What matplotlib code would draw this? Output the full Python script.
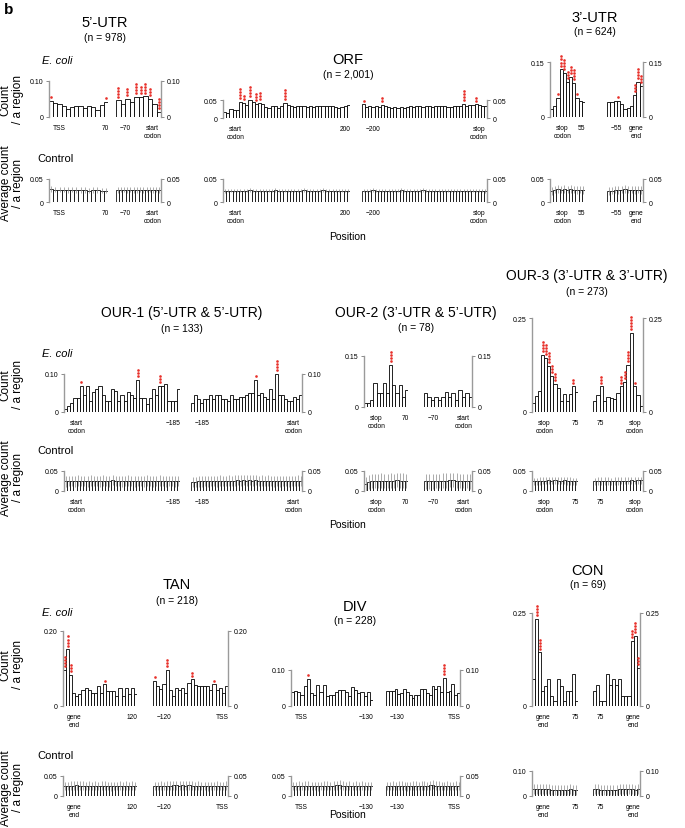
import matplotlib
matplotlib.use('Agg')
import matplotlib.pyplot as plt
from matplotlib.transforms import offset_copy

plt.rcParams['font.family'] = ['Liberation Sans', 'DejaVu Sans']

# ---------------- E. coli data (count / a region) ----------------
e5L = [0.045, 0.040, 0.036, 0.030, 0.022, 0.028, 0.030, 0.030, 0.025, 0.030, 0.028, 0.020, 0.032, 0.042]
e5R = [0.046, 0.036, 0.050, 0.041, 0.055, 0.055, 0.057, 0.050, 0.035, 0.015]
eORFL = [0.018, 0.015, 0.024, 0.022, 0.022, 0.045, 0.042, 0.037, 0.050, 0.045,
         0.040, 0.042, 0.040, 0.030, 0.028, 0.032, 0.032, 0.028, 0.034, 0.042,
         0.036, 0.032, 0.030, 0.034, 0.034, 0.032, 0.030, 0.033, 0.030, 0.034,
         0.032, 0.034, 0.034, 0.032, 0.034, 0.030, 0.028, 0.030, 0.034, 0.035]
eORFR = [0.038, 0.030, 0.032, 0.030, 0.032, 0.030, 0.037, 0.032, 0.030, 0.028,
         0.030, 0.028, 0.030, 0.028, 0.030, 0.032, 0.030, 0.034, 0.032, 0.030,
         0.032, 0.034, 0.030, 0.033, 0.033, 0.033, 0.033, 0.030, 0.030, 0.032,
         0.034, 0.034, 0.040, 0.032, 0.036, 0.036, 0.038, 0.036, 0.032, 0.034]
e3L = [0.023, 0.030, 0.053, 0.130, 0.120, 0.095, 0.109, 0.093, 0.052, 0.045, 0.041]
e3R = [0.042, 0.042, 0.044, 0.043, 0.036, 0.022, 0.025, 0.030, 0.060, 0.095, 0.085]
eO1L = [0.007, 0.015, 0.023, 0.038, 0.038, 0.068, 0.045, 0.068, 0.030, 0.052,
        0.060, 0.068, 0.045, 0.030, 0.030, 0.060, 0.056, 0.030, 0.045, 0.030,
        0.052, 0.045, 0.038, 0.085, 0.038, 0.038, 0.022, 0.038, 0.060, 0.045,
        0.068, 0.068, 0.075, 0.030, 0.030, 0.030, 0.060]
eO1R = [0.025, 0.045, 0.035, 0.025, 0.035, 0.035, 0.045, 0.035, 0.045, 0.045,
        0.035, 0.035, 0.030, 0.045, 0.035, 0.035, 0.040, 0.040, 0.045, 0.050,
        0.050, 0.085, 0.045, 0.050, 0.040, 0.035, 0.060, 0.035, 0.100, 0.045,
        0.045, 0.035, 0.030, 0.030, 0.040, 0.035, 0.045]
eO2L = [0.011, 0.011, 0.020, 0.072, 0.040, 0.042, 0.072, 0.040, 0.125, 0.065, 0.040, 0.065, 0.030, 0.050]
eO2R = [0.042, 0.028, 0.020, 0.028, 0.020, 0.028, 0.045, 0.028, 0.042, 0.020, 0.050, 0.028, 0.042, 0.028]
eO3L = [0.023, 0.043, 0.056, 0.152, 0.143, 0.123, 0.097, 0.074, 0.065, 0.030, 0.047, 0.030, 0.048, 0.068, 0.052]
eO3R = [0.030, 0.045, 0.068, 0.030, 0.040, 0.038, 0.035, 0.050, 0.068, 0.080, 0.125, 0.210, 0.068, 0.045, 0.015]
eTL = [0.096, 0.151, 0.084, 0.036, 0.027, 0.031, 0.044, 0.049, 0.044, 0.036, 0.036, 0.053,
       0.036, 0.058, 0.040, 0.040, 0.040, 0.027, 0.049, 0.027, 0.049, 0.031, 0.049, 0.031]
eTR = [0.067, 0.053, 0.046, 0.058, 0.096, 0.044, 0.027, 0.049, 0.044, 0.049, 0.036, 0.062,
       0.071, 0.055, 0.053, 0.053, 0.053, 0.053, 0.044, 0.058, 0.044, 0.049, 0.036, 0.053]
eDL = [0.040, 0.042, 0.038, 0.030, 0.055, 0.075, 0.035, 0.030, 0.058, 0.040, 0.058, 0.028, 0.030,
       0.030, 0.040, 0.045, 0.045, 0.040, 0.028, 0.052, 0.045, 0.035, 0.040, 0.028, 0.040, 0.016]
eDR = [0.042, 0.042, 0.042, 0.046, 0.032, 0.036, 0.046, 0.040, 0.030, 0.022, 0.030, 0.030, 0.046,
       0.046, 0.036, 0.030, 0.055, 0.046, 0.055, 0.040, 0.078, 0.038, 0.042, 0.060, 0.030, 0.035]
eCL = [0.072, 0.235, 0.144, 0.041, 0.054, 0.072, 0.027, 0.014, 0.072, 0.054, 0.014, 0.041, 0.041, 0.086, 0.014]
eCR = [0.041, 0.056, 0.014, 0.014, 0.086, 0.056, 0.072, 0.056, 0.072, 0.027, 0.027, 0.027, 0.176, 0.188, 0.102]

# significance stars: (bar index, number of stars)
s5L = [(0, 1), (13, 1)]
s5R = [(0, 4), (2, 3), (4, 4), (5, 3), (6, 4), (7, 3), (9, 4)]
sORFL = [(5, 4), (6, 2), (8, 4), (10, 3), (11, 3), (19, 4)]
sORFR = [(0, 1), (6, 2), (32, 4), (36, 2)]
s3L = [(2, 1), (3, 4), (4, 4), (5, 3), (6, 3), (7, 4), (8, 1)]
s3R = [(3, 1), (8, 3), (9, 4), (10, 3)]
sO1L = [(5, 1), (23, 3), (30, 3)]
sO1R = [(21, 1), (28, 4)]
sO2L = [(8, 4)]
sO2R = []
sO3L = [(3, 4), (4, 4), (5, 4), (6, 3), (7, 3), (13, 2)]
sO3R = [(2, 3), (8, 3), (9, 3), (10, 4), (11, 5), (12, 1)]
sTL = [(0, 4), (1, 4), (2, 3), (13, 1)]
sTR = [(0, 1), (4, 3), (12, 2), (19, 1)]
sDL = [(5, 1)]
sDR = [(20, 4)]
sCL = [(1, 4), (2, 4)]
sCR = [(12, 3), (13, 4), (14, 3)]

# ---------------- Control data (average count / a region) ----------------
c5L = [0.028, 0.027, 0.027, 0.027, 0.026, 0.027, 0.026, 0.026, 0.026, 0.025, 0.026, 0.026, 0.025, 0.025]
c5R = [0.026, 0.027, 0.027, 0.026, 0.027, 0.026, 0.026, 0.027, 0.026, 0.027, 0.027, 0.026, 0.027, 0.026]
cORFL = [0.024, 0.025, 0.025, 0.025, 0.025, 0.025, 0.025, 0.025, 0.026, 0.025,
         0.025, 0.025, 0.025, 0.025, 0.025, 0.025, 0.026, 0.025, 0.025, 0.025,
         0.025, 0.025, 0.025, 0.025, 0.025, 0.026, 0.025, 0.025, 0.025, 0.025,
         0.025, 0.026, 0.025, 0.025, 0.025, 0.025, 0.025, 0.025, 0.025, 0.025]
cORFR = [0.025, 0.025, 0.025, 0.026, 0.025, 0.025, 0.025, 0.025, 0.025, 0.025,
         0.025, 0.025, 0.026, 0.025, 0.025, 0.025, 0.025, 0.025, 0.025, 0.026,
         0.025, 0.025, 0.025, 0.025, 0.025, 0.025, 0.025, 0.025, 0.025, 0.025,
         0.025, 0.025, 0.025, 0.025, 0.025, 0.025, 0.025, 0.025, 0.025, 0.024]
c3L = [0.024, 0.027, 0.028, 0.027, 0.028, 0.027, 0.028, 0.027, 0.026, 0.027, 0.026]
c3R = [0.024, 0.025, 0.027, 0.026, 0.027, 0.028, 0.027, 0.027, 0.026, 0.027, 0.026]
cO1L = [0.024, 0.025, 0.025, 0.024, 0.026, 0.025, 0.025, 0.024, 0.026, 0.025,
        0.025, 0.024, 0.026, 0.025, 0.024, 0.027, 0.025, 0.025, 0.024, 0.025,
        0.026, 0.025, 0.024, 0.025, 0.025, 0.024, 0.026, 0.025, 0.024, 0.025,
        0.026, 0.025, 0.024, 0.025, 0.025, 0.024, 0.025]
cO1R = [0.022, 0.023, 0.024, 0.024, 0.025, 0.024, 0.025, 0.025, 0.024, 0.026,
        0.025, 0.025, 0.026, 0.025, 0.026, 0.027, 0.026, 0.027, 0.026, 0.028,
        0.026, 0.027, 0.025, 0.026, 0.025, 0.026, 0.025, 0.024, 0.025, 0.024,
        0.025, 0.025, 0.024, 0.025, 0.025, 0.026, 0.025]
cO2L = [0.018, 0.022, 0.025, 0.025, 0.025, 0.026, 0.025, 0.025, 0.026, 0.025, 0.027, 0.026, 0.026, 0.025]
cO2R = [0.024, 0.024, 0.024, 0.025, 0.025, 0.026, 0.026, 0.027, 0.027, 0.026, 0.025, 0.025, 0.025, 0.024]
cO3L = [0.024, 0.024, 0.025, 0.026, 0.026, 0.027, 0.026, 0.027, 0.026, 0.026, 0.027, 0.025, 0.025, 0.024, 0.024]
cO3R = [0.024, 0.025, 0.025, 0.025, 0.025, 0.024, 0.025, 0.025, 0.026, 0.026, 0.026, 0.027, 0.026, 0.027, 0.027]
cTL = [0.025, 0.025, 0.026, 0.026, 0.027, 0.026, 0.026, 0.025, 0.026, 0.025, 0.026, 0.025,
       0.026, 0.026, 0.025, 0.024, 0.025, 0.025, 0.026, 0.025, 0.026, 0.025, 0.026, 0.025]
cTR = [0.025, 0.025, 0.026, 0.025, 0.026, 0.026, 0.027, 0.027, 0.026, 0.027, 0.026, 0.027,
       0.026, 0.025, 0.026, 0.025, 0.025, 0.024, 0.025, 0.025, 0.026, 0.025, 0.025, 0.026]
cDL = [0.025, 0.025, 0.026, 0.025, 0.026, 0.026, 0.025, 0.025, 0.024, 0.025, 0.026, 0.026, 0.025,
       0.026, 0.027, 0.028, 0.026, 0.025, 0.026, 0.025, 0.026, 0.025, 0.026, 0.025, 0.025, 0.025]
cDR = [0.025, 0.025, 0.026, 0.025, 0.026, 0.026, 0.025, 0.024, 0.025, 0.026, 0.026, 0.025, 0.026,
       0.026, 0.025, 0.027, 0.028, 0.026, 0.026, 0.025, 0.025, 0.026, 0.025, 0.025, 0.026, 0.025]
cCL = [0.030, 0.030, 0.030, 0.029, 0.028, 0.027, 0.026, 0.025, 0.025, 0.024, 0.025, 0.026, 0.027, 0.026, 0.024]
cCR = [0.027, 0.027, 0.026, 0.026, 0.025, 0.025, 0.026, 0.026, 0.028, 0.027, 0.028, 0.028, 0.027, 0.026, 0.027]

# control standard deviation per region group
err5U, errORF, err3U = 0.006, 0.004, 0.008
errO1, errO2, errO3 = 0.013, 0.018, 0.009
errTAN, errDIV, errCON = 0.011, 0.011, 0.020

# ---------------- figure ----------------
W, H = 685, 829
fig = plt.figure(figsize=(W / 100, H / 100), dpi=100)

STAR = '#e8302a'
SPINE = '#9a9a9a'


def panel(x0, x1, yt, yb, vals, ymax, side, labels, stars=None, err=None, ylab='{:.2f}'):
    ax = fig.add_axes([x0 / W, 1 - yb / H, (x1 - x0) / W, (yb - yt) / H])
    n = len(vals)
    xs = list(range(n))
    if err is not None:
        ax.bar(xs, vals, width=1, color='white', edgecolor='black', linewidth=0.55,
               yerr=[err] * n, error_kw=dict(ecolor='#8a8a8a', elinewidth=0.5, capsize=0), zorder=2)
    else:
        ax.bar(xs, vals, width=1, color='white', edgecolor='black', linewidth=0.6, zorder=2)
    ax.set_xlim(-0.5, n - 0.5)
    ax.set_ylim(0, ymax)
    for s in ['top', 'bottom', 'left', 'right']:
        ax.spines[s].set_visible(False)
    sp = ax.spines[side]
    sp.set_visible(True)
    sp.set_color(SPINE)
    sp.set_linewidth(1.0)
    if side == 'left':
        ax.yaxis.tick_left()
    else:
        ax.yaxis.tick_right()
    ax.set_yticks([0, ymax])
    ax.set_yticklabels(['0', ylab.format(ymax)])
    ax.tick_params(axis='y', length=2, width=0.6, color='#777777', labelsize=5, pad=2)
    ax.set_xticks([])
    ax.patch.set_visible(False)
    trL = offset_copy(ax.transData, fig=fig, x=2.5, y=-5, units='points')
    trR = offset_copy(ax.transData, fig=fig, x=0.5, y=-5, units='points')
    ax.text(-0.5, 0, labels[0], transform=trL, ha='left', va='top', fontsize=4.8,
            multialignment='center', linespacing=1.15)
    ax.text(n - 0.5, 0, labels[1], transform=trR, ha='right', va='top', fontsize=4.8,
            multialignment='center', linespacing=1.15)
    if stars:
        for i, k in stars:
            for j in range(k):
                tr = offset_copy(ax.transData, fig=fig, x=0, y=(2.7 + 2.2 * j), units='points')
                ax.plot([i], [vals[i]], 'o', ms=1.9, color=STAR, mec='none', transform=tr, clip_on=False, zorder=3)
    return ax


def txt(x, y, s, size, **kw):
    fig.text(x / W, 1 - y / H, s, fontsize=size, ha=kw.pop('ha', 'center'), va=kw.pop('va', 'center'), **kw)


# panel letter
txt(4, 10, 'b', 11, ha='left', fontweight='bold')

# ---------- Row 1 ----------
txt(105, 23, '5\u2019-UTR', 10.5)
txt(105, 38, '(n = 978)', 7.5)
txt(348, 60, 'ORF', 10.5)
txt(348, 75, '(n = 2,001)', 7.5)
txt(595, 18, '3\u2019-UTR', 10.5)
txt(595, 32, '(n = 624)', 7.5)
txt(42, 61, 'E. coli', 8, ha='left', style='italic')
txt(37, 159, 'Control', 8, ha='left')
txt(12, 100, 'Count\n/ a region', 8.5, rotation=90, linespacing=1.1)
txt(12, 183, 'Average count\n/ a region', 8.5, rotation=90, linespacing=1.1)
txt(348, 237, 'Position', 7.5)

panel(49, 108, 82, 118, e5L, 0.10, 'left', ('TSS', '70'), s5L)
panel(116, 161, 82, 118, e5R, 0.10, 'right', ('\u221270', 'start\ncodon'), s5R)
panel(223, 350, 101, 119, eORFL, 0.05, 'left', ('start\ncodon', '200'), sORFL)
panel(362, 487, 101, 119, eORFR, 0.05, 'right', ('\u2212200', 'stop\ncodon'), sORFR)
panel(550, 585, 63, 118, e3L, 0.15, 'left', ('stop\ncodon', '55'), s3L)
panel(607, 643, 63, 118, e3R, 0.15, 'right', ('\u221255', 'gene\nend'), s3R)

panel(49, 108, 180, 203, c5L, 0.05, 'left', ('TSS', '70'), err=err5U)
panel(116, 161, 180, 203, c5R, 0.05, 'right', ('\u221270', 'start\ncodon'), err=err5U)
panel(223, 350, 180, 203, cORFL, 0.05, 'left', ('start\ncodon', '200'), err=errORF)
panel(362, 487, 180, 203, cORFR, 0.05, 'right', ('\u2212200', 'stop\ncodon'), err=errORF)
panel(550, 585, 180, 203, c3L, 0.05, 'left', ('stop\ncodon', '55'), err=err3U)
panel(607, 643, 180, 203, c3R, 0.05, 'right', ('\u221255', 'gene\nend'), err=err3U)

# ---------- Row 2 ----------
txt(182, 313, 'OUR-1 (5\u2019-UTR & 5\u2019-UTR)', 10)
txt(182, 329, '(n = 133)', 7.5)
txt(416, 313, 'OUR-2 (3\u2019-UTR & 5\u2019-UTR)', 10)
txt(416, 328, '(n = 78)', 7.5)
txt(587, 276, 'OUR-3 (3\u2019-UTR & 3\u2019-UTR)', 10)
txt(587, 292, '(n = 273)', 7.5)
txt(42, 354, 'E. coli', 8, ha='left', style='italic')
txt(37, 451, 'Control', 8, ha='left')
txt(12, 385, 'Count\n/ a region', 8.5, rotation=90, linespacing=1.1)
txt(12, 478, 'Average count\n/ a region', 8.5, rotation=90, linespacing=1.1)
txt(348, 525, 'Position', 7.5)

panel(64, 180, 375, 413, eO1L, 0.10, 'left', ('start\ncodon', '\u2212185'), sO1L)
panel(191, 302, 375, 413, eO1R, 0.10, 'right', ('\u2212185', 'start\ncodon'), sO1R)
panel(364, 408, 357, 408, eO2L, 0.15, 'left', ('stop\ncodon', '70'), sO2L)
panel(424, 472, 357, 408, eO2R, 0.15, 'right', ('\u221270', 'start\ncodon'), sO2R)
panel(532, 578, 319, 413, eO3L, 0.25, 'left', ('stop\ncodon', '75'), sO3L)
panel(593, 643, 319, 413, eO3R, 0.25, 'right', ('75', 'stop\ncodon'), sO3R)

panel(64, 180, 472, 492, cO1L, 0.05, 'left', ('start\ncodon', '\u2212185'), err=errO1)
panel(191, 302, 472, 492, cO1R, 0.05, 'right', ('\u2212185', 'start\ncodon'), err=errO1)
panel(364, 408, 472, 492, cO2L, 0.05, 'left', ('stop\ncodon', '70'), err=errO2)
panel(424, 472, 472, 492, cO2R, 0.05, 'right', ('\u221270', 'start\ncodon'), err=errO2)
panel(532, 578, 472, 492, cO3L, 0.05, 'left', ('stop\ncodon', '75'), err=errO3)
panel(593, 643, 472, 492, cO3R, 0.05, 'right', ('75', 'stop\ncodon'), err=errO3)

# ---------- Row 3 ----------
txt(177, 585, 'TAN', 10.5)
txt(177, 601, '(n = 218)', 7.5)
txt(355, 607, 'DIV', 10.5)
txt(355, 621, '(n = 228)', 7.5)
txt(588, 571, 'CON', 10.5)
txt(588, 585, '(n = 69)', 7.5)
txt(42, 613, 'E. coli', 8, ha='left', style='italic')
txt(37, 756, 'Control', 8, ha='left')
txt(12, 665, 'Count\n/ a region', 8.5, rotation=90, linespacing=1.1)
txt(12, 788, 'Average count\n/ a region', 8.5, rotation=90, linespacing=1.1)
txt(348, 815, 'Position', 7.5)

panel(63, 137, 632, 707, eTL, 0.20, 'left', ('gene\nend', '120'), sTL)
panel(153, 228, 632, 707, eTR, 0.20, 'right', ('\u2212120', 'TSS'), sTR)
panel(291, 373, 671, 707, eDL, 0.10, 'left', ('TSS', '\u2212130'), sDL)
panel(386, 460, 671, 707, eDR, 0.10, 'right', ('\u2212130', 'TSS'), sDR)
panel(532, 578, 614, 707, eCL, 0.25, 'left', ('gene\nend', '75'), sCL)
panel(593, 640, 614, 707, eCR, 0.25, 'right', ('75', 'gene\nend'), sCR)

panel(63, 137, 777, 797, cTL, 0.05, 'left', ('gene\nend', '120'), err=errTAN)
panel(153, 228, 777, 797, cTR, 0.05, 'right', ('\u2212120', 'TSS'), err=errTAN)
panel(291, 373, 777, 797, cDL, 0.05, 'left', ('TSS', '\u2212130'), err=errDIV)
panel(386, 460, 777, 797, cDR, 0.05, 'right', ('\u2212130', 'TSS'), err=errDIV)
panel(532, 578, 772, 797, cCL, 0.10, 'left', ('gene\nend', '75'), err=errCON)
panel(593, 640, 772, 797, cCR, 0.10, 'right', ('75', 'gene\nend'), err=errCON)

fig.savefig('out.png', dpi=100)
